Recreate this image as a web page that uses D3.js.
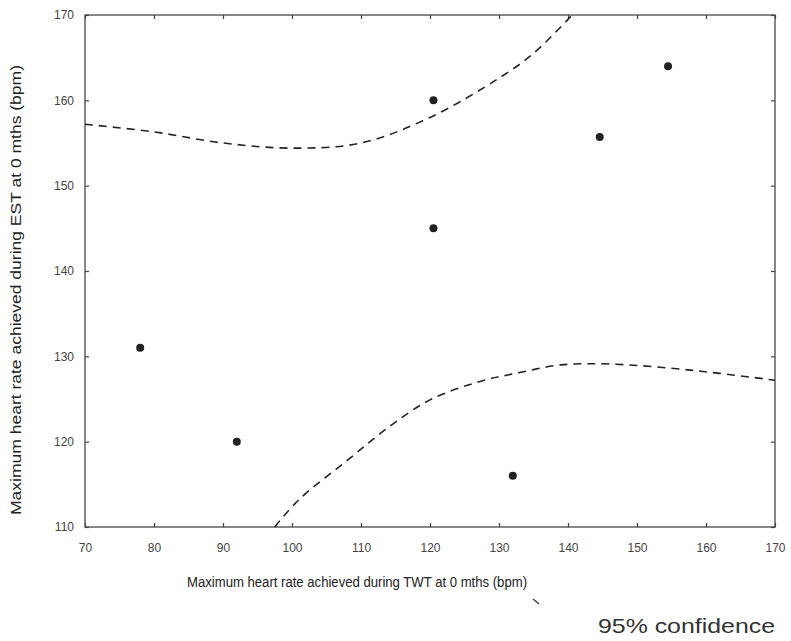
<!DOCTYPE html>
<html>
<head>
<meta charset="utf-8">
<script src="https://cdn.jsdelivr.net/npm/d3@7"></script>
<style>
  html, body { margin: 0; padding: 0; background: #fff; }
  svg { display: block; }
</style>
</head>
<body>
<svg id="chart" width="791" height="641"></svg>
<script>
// ---- data ----
const twt = [78, 92, 120.5, 120.5, 132, 144.6, 154.5];
const est = [131, 120, 160, 145, 116, 155.7, 164];

const upperX = [70, 80, 90, 100, 110, 120, 130, 135, 140.6];
const upperY = [157.2, 156.3, 155.0, 154.4, 155.0, 158.0, 162.6, 165.5, 170];

const lowerX = [97.5, 101, 108, 114, 120, 127, 133, 139, 146, 155, 162, 170];
const lowerY = [110, 113.2, 117.8, 121.7, 124.9, 127.0, 128.1, 129.0, 129.1, 128.6, 128.0, 127.2];

const xTicks = [70, 80, 90, 100, 110, 120, 130, 140, 150, 160, 170];
const yTicks = [110, 120, 130, 140, 150, 160, 170];

const xTitle = "Maximum heart rate achieved during TWT at 0 mths (bpm)";
const yTitle = "Maximum heart rate achieved during EST at 0 mths (bpm)";
const noteText = "95% confidence";

// ---- layout ----
const svg = d3.select("#chart");
const L = 85, R = 775, T = 15, B = 527;
const x = d3.scaleLinear().domain([70, 170]).range([L, R]);
const y = d3.scaleLinear().domain([110, 170]).range([B, T]);
const narrow = "'Liberation Sans Narrow', 'Arial Narrow', 'Liberation Sans', sans-serif";

// frame
svg.append("rect").attr("x", L).attr("y", T).attr("width", R - L).attr("height", B - T)
  .attr("fill", "none").attr("stroke", "#555").attr("stroke-width", 1.4);

// axes (inward ticks)
const gx = svg.append("g").attr("transform", `translate(0,${B})`)
  .call(d3.axisBottom(x).tickValues(xTicks).tickSize(-4).tickPadding(16).tickFormat(d3.format("d")));
const gxTop = svg.append("g").attr("transform", `translate(0,${T})`)
  .call(d3.axisTop(x).tickValues(xTicks).tickSize(-4).tickFormat(""));
const gy = svg.append("g").attr("transform", `translate(${L},0)`)
  .call(d3.axisLeft(y).tickValues(yTicks).tickSize(-4).tickPadding(11).tickFormat(d3.format("d")));
const gyR = svg.append("g").attr("transform", `translate(${R},0)`)
  .call(d3.axisRight(y).tickValues(yTicks).tickSize(-4).tickFormat(""));

[gx, gxTop, gy, gyR].forEach(g => {
  g.select(".domain").remove();
  g.selectAll(".tick line").attr("stroke", "#444").attr("stroke-width", 1.2);
  g.selectAll("text").attr("font-family", "'Liberation Sans', Arial, sans-serif")
    .attr("font-size", 12).attr("fill", "#444");
});

// confidence bands
const line = d3.line().curve(d3.curveCatmullRom.alpha(0.5)).x(d => x(d[0])).y(d => y(d[1]));
const bandStyle = sel => sel.attr("fill", "none").attr("stroke", "#222")
  .attr("stroke-width", 1.6).attr("stroke-dasharray", "8,6");

svg.append("path").datum(d3.zip(upperX, upperY)).attr("d", line).call(bandStyle);
svg.append("path").datum(d3.zip(lowerX, lowerY)).attr("d", line).call(bandStyle);

// points
svg.append("g").selectAll("circle").data(d3.zip(twt, est)).join("circle")
  .attr("cx", d => x(d[0])).attr("cy", d => y(d[1])).attr("r", 4)
  .attr("fill", "#222");

// axis titles
svg.append("text").attr("x", 357).attr("y", 587).attr("text-anchor", "middle")
  .attr("font-family", narrow).attr("font-size", 14).attr("fill", "#222")
  .attr("textLength", 340).attr("lengthAdjust", "spacingAndGlyphs")
  .text(xTitle);

svg.append("text").attr("transform", `translate(21,290) rotate(-90)`)
  .attr("text-anchor", "middle")
  .attr("font-family", narrow).attr("font-size", 14).attr("fill", "#222")
  .attr("textLength", 450).attr("lengthAdjust", "spacingAndGlyphs")
  .text(yTitle);

// annotation
svg.append("line").attr("x1", 533).attr("y1", 599).attr("x2", 539).attr("y2", 604)
  .attr("stroke", "#333").attr("stroke-width", 1.3);
svg.append("text").attr("x", 598).attr("y", 633)
  .attr("font-family", "'Liberation Sans', Arial, sans-serif").attr("font-size", 21).attr("fill", "#333")
  .attr("textLength", 177).attr("lengthAdjust", "spacingAndGlyphs")
  .text(noteText);
</script>
</body>
</html>
